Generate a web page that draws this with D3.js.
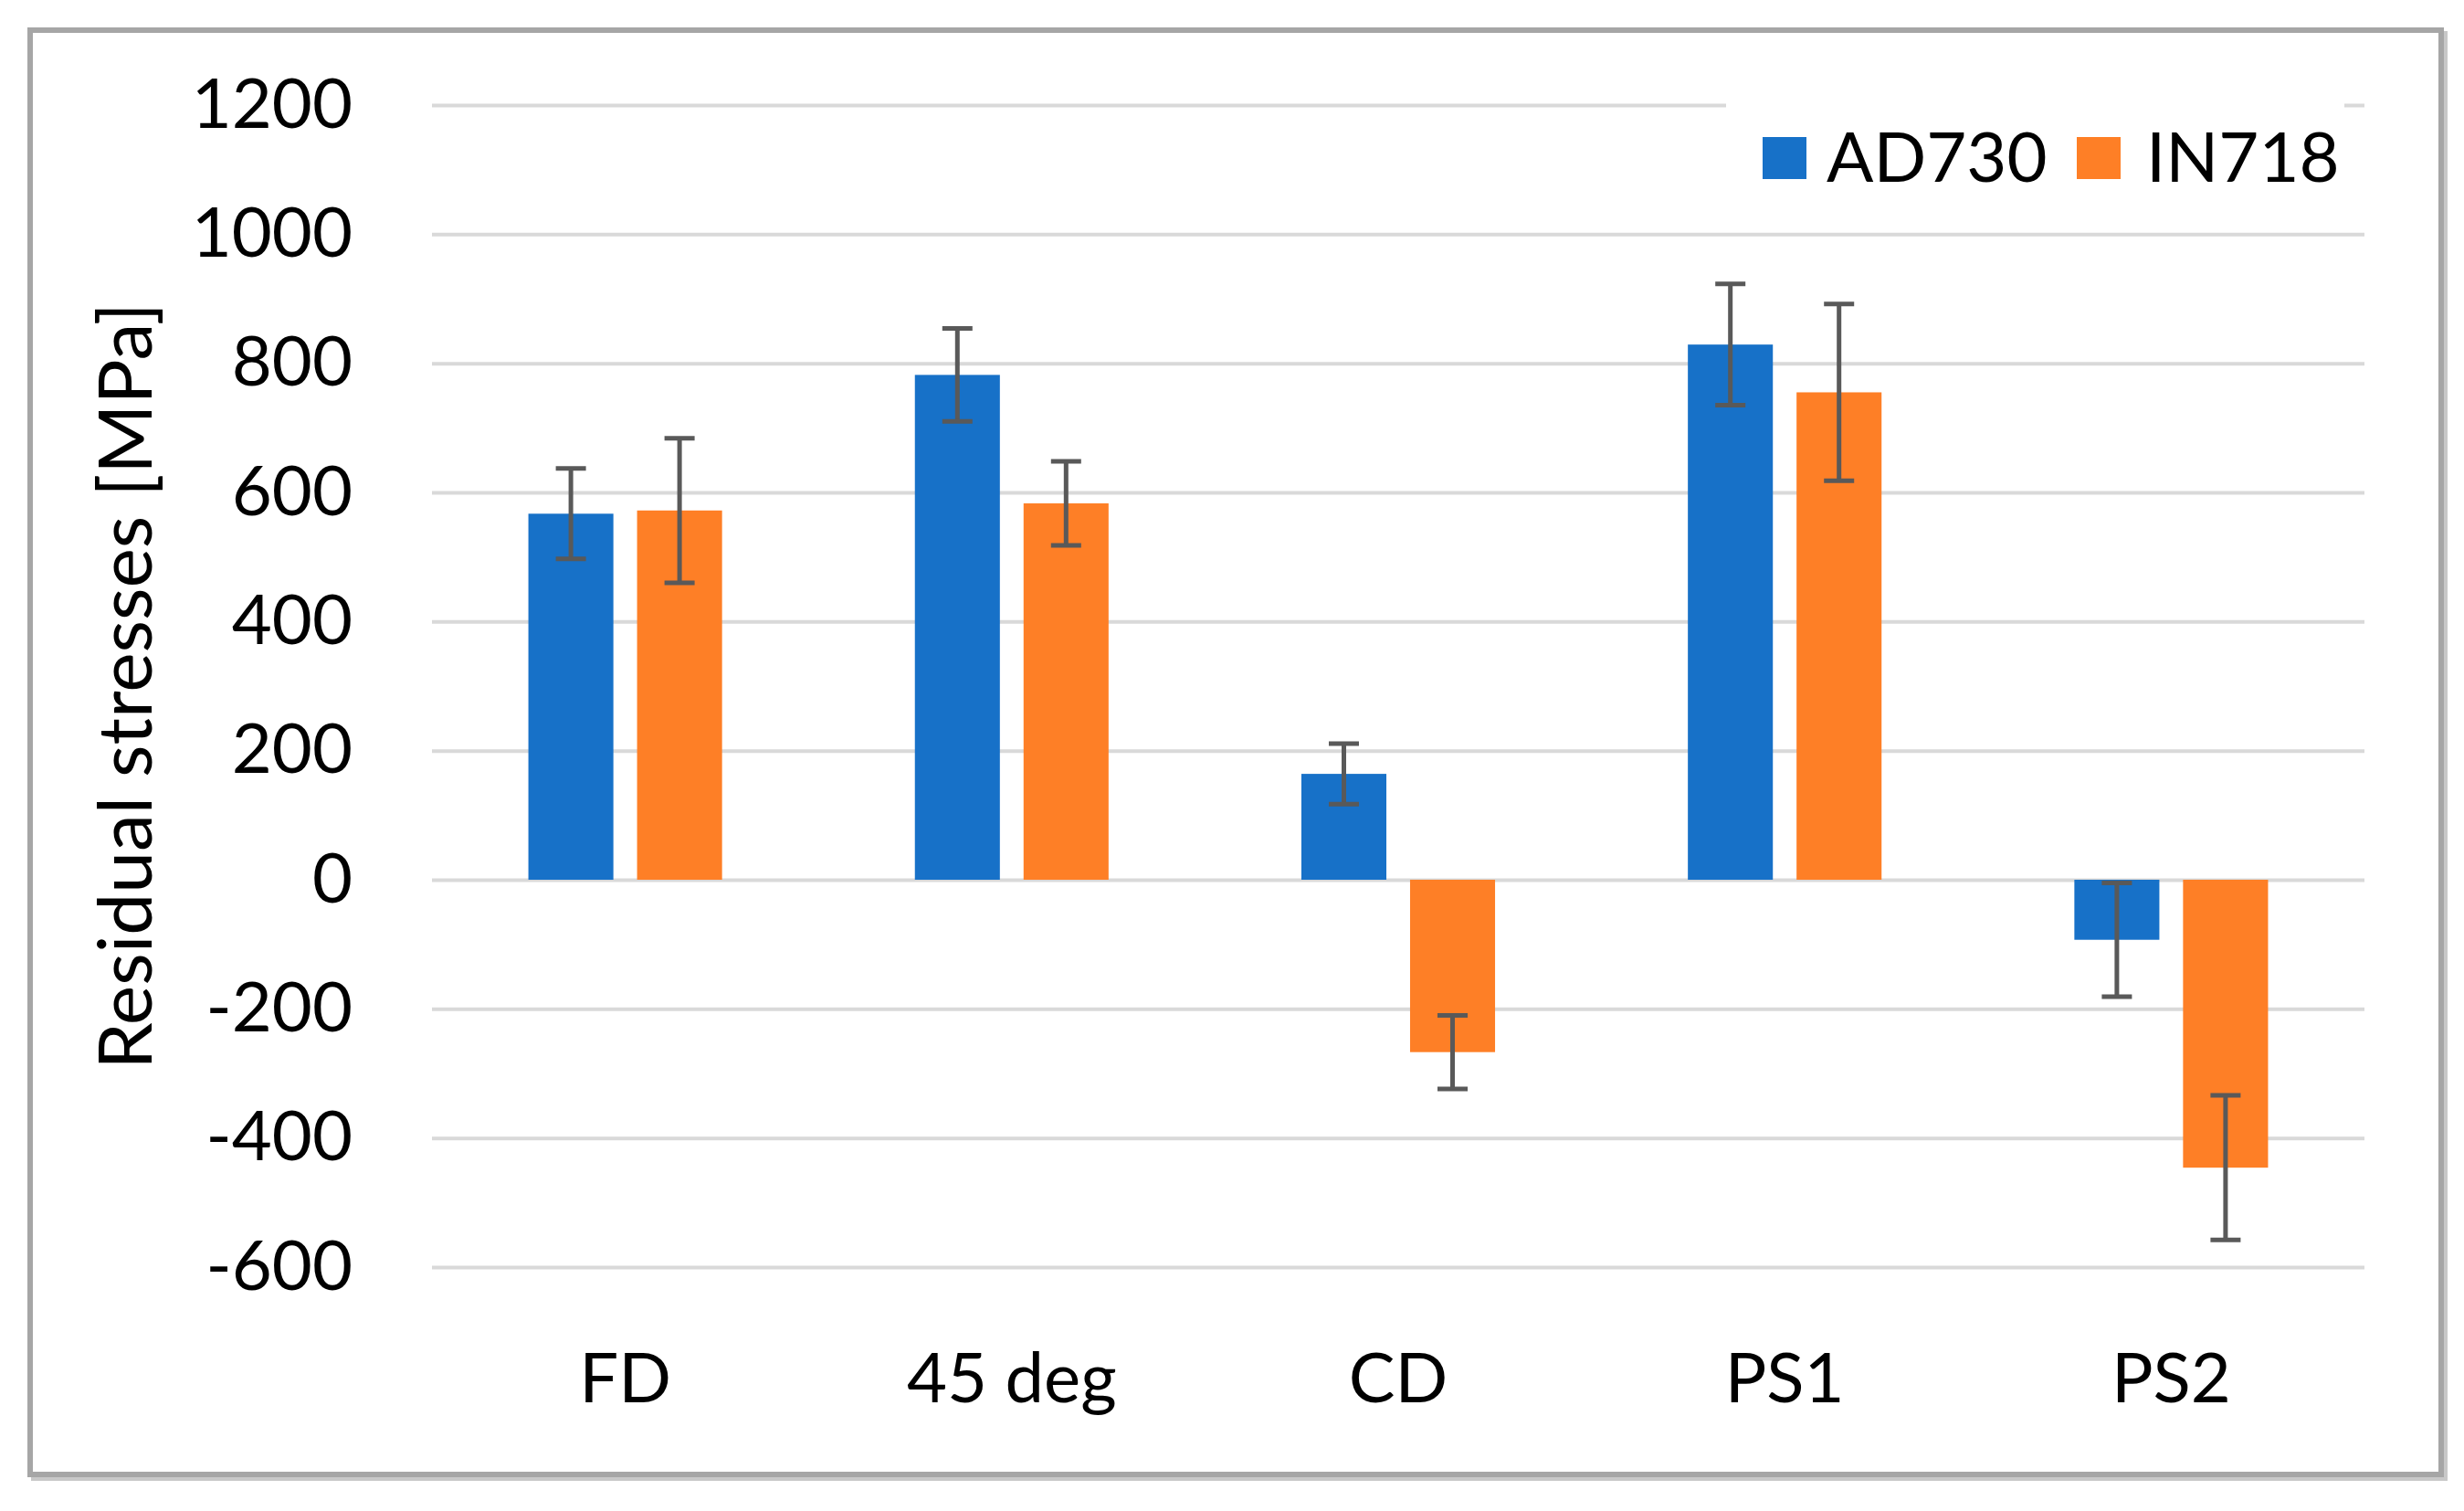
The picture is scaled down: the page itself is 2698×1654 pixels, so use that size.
<!DOCTYPE html>
<html>
<head>
<meta charset="utf-8">
<script src="https://cdn.jsdelivr.net/npm/d3@7"></script>
<style>
  html, body { margin: 0; padding: 0; background: #ffffff; }
  svg { display: block; }
  text { font-family: "Lato", "Liberation Sans", sans-serif; fill: #000; }
</style>
</head>
<body>
<svg id="chart" width="2698" height="1654"></svg>
<script>
// ---- data ----
const categories = ["FD", "45 deg", "CD", "PS1", "PS2"];
const seriesNames = ["AD730", "IN718"];
const ad730Values = [567, 782, 164, 829, -93];
const in718Values = [572, 583, -267, 755, -446];
const ad730Errors = [70, 72, 47, 94, 88];
const in718Errors = [112, 65, 57, 137, 112];
const yTickValues = [-600, -400, -200, 0, 200, 400, 600, 800, 1000, 1200];
const yTitle = "Residual stresses [MPa]";

const seriesValues = { AD730: ad730Values, IN718: in718Values };
const seriesErrors = { AD730: ad730Errors, IN718: in718Errors };
const colors = { AD730: "#1771C8", IN718: "#FE7F26" };

// ---- layout ----
const W = 2698, H = 1654;
const plotLeft = 473, plotRight = 2589, plotTop = 115, plotBottom = 1387;
const fontSize = 76;

const svg = d3.select("#chart");

// outer frame with slight shadow
svg.append("rect")
  .attr("x", 37).attr("y", 37)
  .attr("width", 2640).attr("height", 1581)
  .attr("fill", "none")
  .attr("stroke", "#c8c8c8")
  .attr("stroke-width", 6);
svg.append("rect")
  .attr("x", 33).attr("y", 33)
  .attr("width", 2640).attr("height", 1581)
  .attr("fill", "#ffffff")
  .attr("stroke", "#a6a6a6")
  .attr("stroke-width", 6);

const x0 = d3.scaleBand().domain(categories).range([plotLeft, plotRight]).padding(0);
const x1 = d3.scaleBand().domain(seriesNames).range([0, x0.bandwidth()])
  .paddingInner(0.218).paddingOuter(0.887);
const y = d3.scaleLinear().domain([-600, 1200]).range([plotBottom, plotTop]);

// gridlines + y tick labels
const yAxis = d3.axisLeft(y)
  .tickValues(yTickValues)
  .tickSize(-(plotRight - plotLeft))
  .tickPadding(plotLeft - 386)
  .tickFormat(d => String(d));
const gy = svg.append("g").attr("transform", `translate(${plotLeft},0)`).call(yAxis);
gy.select(".domain").remove();
gy.selectAll(".tick line").attr("stroke", "#d9d9d9").attr("stroke-width", 4);
gy.selectAll(".tick text")
  .attr("font-size", fontSize)
  .attr("font-family", "Lato, 'Liberation Sans', sans-serif")
  .attr("fill", "#000");

// y axis title
svg.append("text")
  .attr("transform", `translate(166, ${(plotTop + plotBottom) / 2}) rotate(-90)`)
  .attr("text-anchor", "middle")
  .attr("font-size", 82)
  .text(yTitle);

// bars
const rows = [];
categories.forEach((c, i) => {
  seriesNames.forEach(s => {
    rows.push({ cat: c, series: s, value: seriesValues[s][i], err: seriesErrors[s][i] });
  });
});

svg.append("g").selectAll("rect")
  .data(rows)
  .join("rect")
  .attr("x", d => x0(d.cat) + x1(d.series))
  .attr("width", x1.bandwidth())
  .attr("y", d => y(Math.max(0, d.value)))
  .attr("height", d => Math.abs(y(d.value) - y(0)))
  .attr("fill", d => colors[d.series]);

// error bars
const capHalf = 16.5;
const eg = svg.append("g").attr("stroke", "#595959").attr("stroke-width", 5).attr("fill", "none");
rows.forEach(d => {
  const cx = x0(d.cat) + x1(d.series) + x1.bandwidth() / 2;
  const yHi = y(d.value + d.err), yLo = y(d.value - d.err);
  eg.append("line").attr("x1", cx).attr("x2", cx).attr("y1", yHi).attr("y2", yLo);
  eg.append("line").attr("x1", cx - capHalf).attr("x2", cx + capHalf).attr("y1", yHi).attr("y2", yHi);
  eg.append("line").attr("x1", cx - capHalf).attr("x2", cx + capHalf).attr("y1", yLo).attr("y2", yLo);
});

// category labels
svg.append("g").selectAll("text")
  .data(categories)
  .join("text")
  .attr("x", d => x0(d) + x0.bandwidth() / 2)
  .attr("y", 1535)
  .attr("text-anchor", "middle")
  .attr("font-size", fontSize)
  .text(d => d);

// legend
const lg = svg.append("g");
lg.append("rect").attr("x", 1890).attr("y", 100).attr("width", 677).attr("height", 115).attr("fill", "#fff");
const legendItems = [
  { name: "AD730", sx: 1930, tx: 2000 },
  { name: "IN718", sx: 2274, tx: 2350 }
];
legendItems.forEach(it => {
  lg.append("rect").attr("x", it.sx).attr("y", 150).attr("width", 48).attr("height", 46).attr("fill", colors[it.name]);
  lg.append("text").attr("x", it.tx).attr("y", 199).attr("font-size", fontSize).text(it.name);
});
</script>
</body>
</html>
